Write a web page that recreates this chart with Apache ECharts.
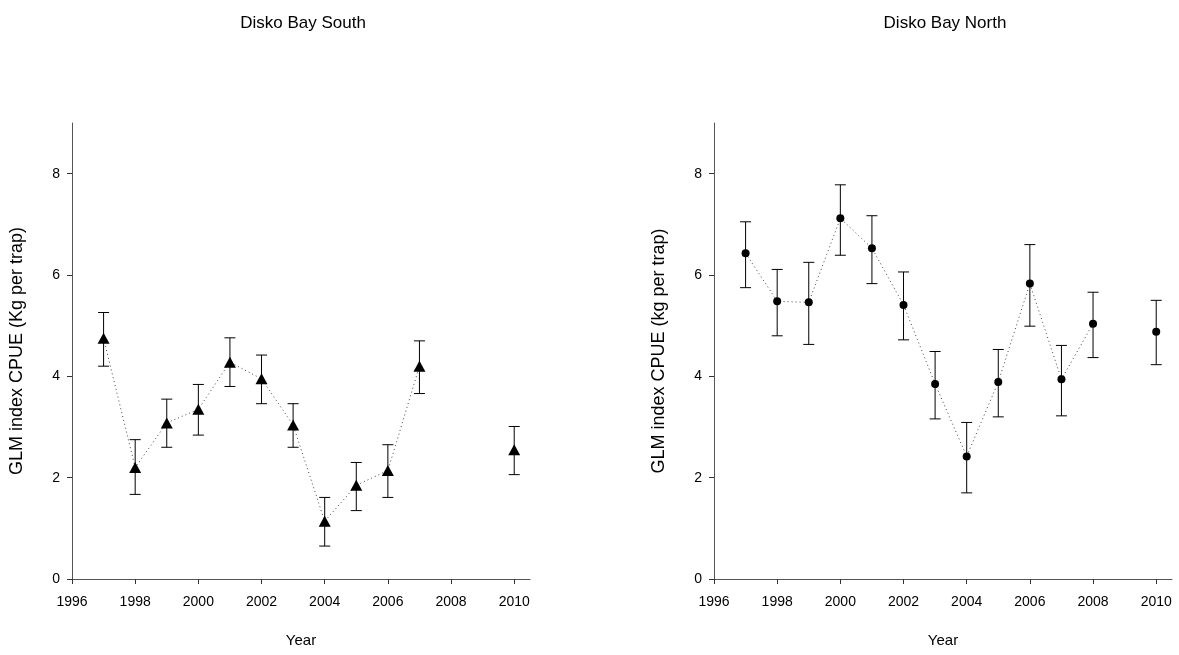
<!DOCTYPE html>
<html>
<head>
<meta charset="utf-8">
<script src="https://cdn.jsdelivr.net/npm/echarts@6/dist/echarts.min.js"></script>
<style>
  html, body { margin: 0; padding: 0; background: #fff; }
  #chart { width: 1179px; height: 655px; }
</style>
</head>
<body>
<div id="chart"></div>
<script>
// Survey years
const southYears = [1997, 1998, 1999, 2000, 2001, 2002, 2003, 2004, 2005, 2006, 2007, 2010];
const northYears = [1997, 1998, 1999, 2000, 2001, 2002, 2003, 2004, 2005, 2006, 2007, 2008, 2010];

// GLM index CPUE (kg per trap) with lower / upper error limits
const southCpue  = [4.75, 2.20, 3.08, 3.35, 4.28, 3.95, 3.04, 1.14, 1.85, 2.14, 4.20, 2.55];
const southLower = [4.20, 1.67, 2.60, 2.84, 3.80, 3.46, 2.60, 0.65, 1.35, 1.61, 3.66, 2.06];
const southUpper = [5.26, 2.75, 3.55, 3.84, 4.76, 4.42, 3.46, 1.61, 2.30, 2.65, 4.70, 3.01];

const northCpue  = [6.43, 5.48, 5.46, 7.12, 6.53, 5.41, 3.85, 2.42, 3.89, 5.83, 3.94, 5.04, 4.88];
const northLower = [5.75, 4.80, 4.63, 6.39, 5.83, 4.72, 3.16, 1.70, 3.20, 4.99, 3.22, 4.37, 4.23];
const northUpper = [7.05, 6.11, 6.25, 7.78, 7.17, 6.06, 4.49, 3.09, 4.53, 6.60, 4.61, 5.66, 5.50];

// Axis ticks
const xTicks = [1996, 1998, 2000, 2002, 2004, 2006, 2008, 2010];
const yTicks = [0, 2, 4, 6, 8];

const FONT = '"Liberation Sans", Arial, sans-serif';

// Dotted connecting line, broken where a year is missing
function lineData(years, vals) {
  const out = [];
  for (let i = 0; i < years.length; i++) {
    if (i > 0 && years[i] - years[i - 1] > 1) out.push('-');
    out.push([years[i], vals[i]]);
  }
  return out;
}

function errorData(years, lo, hi) {
  return years.map((y, i) => [y, lo[i], hi[i]]);
}

function renderErrorBar(params, api) {
  const x = api.value(0);
  const pLo = api.coord([x, api.value(1)]);
  const pHi = api.coord([x, api.value(2)]);
  const w = 5.5;
  const style = { stroke: '#000', lineWidth: 1 };
  return {
    type: 'group',
    children: [
      { type: 'line', shape: { x1: pHi[0], y1: pHi[1], x2: pLo[0], y2: pLo[1] }, style },
      { type: 'line', shape: { x1: pHi[0] - w, y1: pHi[1], x2: pHi[0] + w, y2: pHi[1] }, style },
      { type: 'line', shape: { x1: pLo[0] - w, y1: pLo[1], x2: pLo[0] + w, y2: pLo[1] }, style }
    ]
  };
}

function xAxis(gridIndex) {
  return {
    type: 'value', gridIndex, min: 1996, max: 2010.5,
    name: 'Year', nameLocation: 'middle', nameGap: 54,
    nameTextStyle: { fontFamily: FONT, fontSize: 15, color: '#000' },
    axisLine: { show: true, onZero: false, lineStyle: { color: '#555', width: 1 } },
    axisTick: { show: true, inside: false, length: 5, customValues: xTicks, lineStyle: { color: '#333' } },
    axisLabel: { customValues: xTicks, margin: 16, fontFamily: FONT, fontSize: 14, color: '#000',
                 formatter: v => String(v) },
    splitLine: { show: false }
  };
}

function yAxis(gridIndex, name) {
  return {
    type: 'value', gridIndex, min: 0, max: 9,
    name, nameLocation: 'middle', nameGap: 46, nameRotate: 90,
    nameTextStyle: { fontFamily: FONT, fontSize: 18, color: '#000' },
    axisLine: { show: true, onZero: false, lineStyle: { color: '#555', width: 1 } },
    axisTick: { show: true, inside: false, length: 5, customValues: yTicks, lineStyle: { color: '#333' } },
    axisLabel: { customValues: yTicks, margin: 12, fontFamily: FONT, fontSize: 14, color: '#000' },
    splitLine: { show: false }
  };
}

function panelSeries(idx, years, vals, lo, hi, symbol, symbolSize) {
  return [
    {
      type: 'line', xAxisIndex: idx, yAxisIndex: idx,
      data: lineData(years, vals), showSymbol: false, symbol: 'none',
      connectNulls: false, silent: true, z: 1,
      lineStyle: { color: '#444', width: 1, type: [1, 3] }
    },
    {
      type: 'custom', xAxisIndex: idx, yAxisIndex: idx,
      data: errorData(years, lo, hi), renderItem: renderErrorBar,
      encode: { x: 0, y: [1, 2] }, silent: true, z: 2
    },
    {
      type: 'scatter', xAxisIndex: idx, yAxisIndex: idx,
      data: years.map((y, i) => [y, vals[i]]),
      symbol, symbolSize, itemStyle: { color: '#000', opacity: 1 }, silent: true, z: 3
    }
  ];
}

const chart = echarts.init(document.getElementById('chart'), null, { renderer: 'canvas' });
chart.setOption({
  animation: false,
  backgroundColor: '#fff',
  title: [
    { text: 'Disko Bay South', left: 298, top: 10, textAlign: 'center',
      textStyle: { fontFamily: FONT, fontSize: 17, fontWeight: 'normal', color: '#000' } },
    { text: 'Disko Bay North', left: 940, top: 10, textAlign: 'center',
      textStyle: { fontFamily: FONT, fontSize: 17, fontWeight: 'normal', color: '#000' } }
  ],
  grid: [
    { left: 72, top: 123, width: 458, height: 456 },
    { left: 714, top: 123, width: 458, height: 456 }
  ],
  xAxis: [xAxis(0), xAxis(1)],
  yAxis: [yAxis(0, 'GLM index CPUE (Kg per trap)'), yAxis(1, 'GLM index CPUE (kg per trap)')],
  series: [
    ...panelSeries(0, southYears, southCpue, southLower, southUpper, 'triangle', [12, 11]),
    ...panelSeries(1, northYears, northCpue, northLower, northUpper, 'circle', 8)
  ]
});
</script>
</body>
</html>
